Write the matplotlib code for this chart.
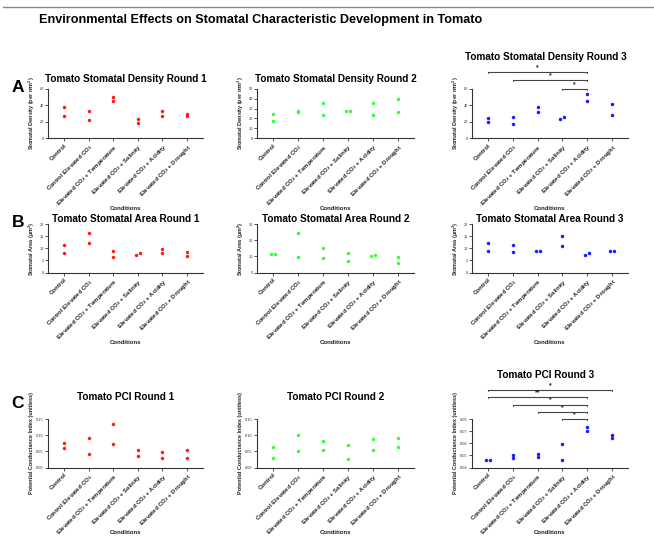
import matplotlib
matplotlib.use('Agg')
import matplotlib.pyplot as plt
import numpy as np

plt.rcParams['font.family'] = ['Liberation Sans', 'DejaVu Sans']
plt.rcParams['mathtext.default'] = 'regular'

# ---------------- data ----------------
conditions = ['Control', 'Control Elevated CO$_2$', 'Elevated CO$_2$ + Temperature',
              'Elevated CO$_2$ + Salinity', 'Elevated CO$_2$ + Acidity', 'Elevated CO$_2$ + Drought']

density_r1 = [[37.7, 27.3], [33.5, 21.5], [49.7, 45.5], [23.6, 17.8], [33.5, 27.3], [27.3, 29.8]]
density_r2 = [[24.1, 17.6], [28.0, 26.1], [35.9, 23.8], [27.6, 27.6], [35.9, 23.8], [39.7, 26.2]]
density_r3 = [[24.0, 19.9], [26.1, 17.4], [37.7, 31.9], [23.6, 25.4], [53.8, 45.5], [41.8, 27.7]]

area_r1 = [[11.3, 8.1], [16.3, 12.4], [8.8, 6.6], [7.4, 7.9], [9.9, 7.9], [8.4, 7.0]]
area_r2 = [[11.25, 11.25], [24.4, 9.6], [15.0, 9.2], [12.3, 6.9], [10.4, 10.8], [9.4, 6.0]]
area_r3 = [[12.4, 9.0], [11.4, 8.3], [8.8, 9.0], [15.0, 11.0], [7.4, 7.9], [8.8, 9.0]]

pci_r1 = [[0.0755, 0.060], [0.091, 0.042], [0.134, 0.073], [0.054, 0.036], [0.049, 0.030], [0.054, 0.030]]
pci_r2 = [[0.064, 0.029], [0.100, 0.051], [0.083, 0.056], [0.069, 0.025], [0.088, 0.055], [0.093, 0.064]]
pci_r3 = [[0.0464, 0.0464], [0.0505, 0.0482], [0.0515, 0.0490], [0.0594, 0.0464], [0.0736, 0.0700], [0.0672, 0.0642]]

# significance comparisons (group i, group j, label), lowest bar first
density_r3_sig = [(3, 4, '*'), (1, 4, '*'), (0, 4, '*')]
pci_r3_sig = [(3, 4, '*'), (2, 4, '*'), (1, 4, '*'), (0, 4, '**'), (0, 5, '*')]

titles = [['Tomato Stomatal Density Round 1', 'Tomato Stomatal Density Round 2', 'Tomato Stomatal Density Round 3'],
          ['Tomato Stomatal Area Round 1', 'Tomato Stomatal Area Round 2', 'Tomato Stomatal Area Round 3'],
          ['Tomato PCI Round 1', 'Tomato PCI Round 2', 'Tomato PCI Round 3']]
ylabels = ['Stomatal Density (per mm$^2$)', 'Stomatal Area (µm$^2$)', 'Potential Conductance Index (unitless)']
row_letters = ['A', 'B', 'C']
main_title = 'Environmental Effects on Stomatal Characteristic Development in Tomato'
xlabel = 'Conditions'

# ---------------- layout ----------------
W, H = 654, 539
fig = plt.figure(figsize=(W / 100, H / 100), dpi=100)

def fx(px):
    return px / W

def fy(py):
    return 1 - py / H

rows_tb = [(89, 138), (224.3, 272.5), (419.3, 467.5)]
cols_lr = [(48, 203), (257, 414), (472, 628)]
title_y = [[79, 79, 57], [219, 219, 219], [397, 397, 375]]
cond_y = [208, 342, 533]
letter_y = [87, 222, 404]

colors = ['#ff1a1a', '#33ff33', '#1a1aff']

panels = [
    [(density_r1, (0, 60), [0, 20, 40, 60], '%d', None),
     (density_r2, (0, 50), [0, 10, 20, 30, 40, 50], '%d', None),
     (density_r3, (0, 60), [0, 20, 40, 60], '%d', (density_r3_sig, 0.175))],
    [(area_r1, (0, 20), [0, 5, 10, 15, 20], '%d', None),
     (area_r2, (0, 30), [0, 10, 20, 30], '%d', None),
     (area_r3, (0, 20), [0, 5, 10, 15, 20], '%d', None)],
    [(pci_r1, (0, 0.15), [0, 0.05, 0.10, 0.15], '%.2f', None),
     (pci_r2, (0, 0.15), [0, 0.05, 0.10, 0.15], '%.2f', None),
     (pci_r3, (0.04, 0.08), [0.04, 0.05, 0.06, 0.07, 0.08], '%.2f', (pci_r3_sig, 0.152))],
]

axcol = '#333333'

for r in range(3):
    t, b = rows_tb[r]
    for c in range(3):
        l, rr = cols_lr[c]
        ax = fig.add_axes([fx(l), fy(b), fx(rr - l), (b - t) / H])
        data, ylim, yticks, fmt, sig = panels[r][c]
        rng = ylim[1] - ylim[0]
        for i, vals in enumerate(data):
            vs = sorted(vals)
            if len(vs) == 2 and (vs[1] - vs[0]) < 0.035 * rng:
                xs = [i - 0.08, i + 0.08]
            else:
                xs = [i] * len(vs)
            ax.plot(xs, vs, 'o', color=colors[c], ms=2.5, mew=0, clip_on=False, zorder=3)
        ax.set_xlim(-0.65, 5.65)
        ax.set_ylim(*ylim)
        ax.set_yticks(yticks)
        ax.set_yticklabels([fmt % v for v in yticks])
        ax.set_xticks(range(len(conditions)))
        ax.set_xticklabels(conditions, rotation=45, ha='right', rotation_mode='anchor',
                           fontsize=4.3, fontweight='bold', color='#222222')
        ax.tick_params(axis='y', labelsize=2.8, length=2, width=0.6, pad=1, colors=axcol)
        ax.tick_params(axis='x', length=2, width=0.6, pad=1.5, colors=axcol)
        for lab in ax.get_xticklabels():
            lab.set_color('#222222')
        for sp in ['top', 'right']:
            ax.spines[sp].set_visible(False)
        for sp in ['left', 'bottom']:
            ax.spines[sp].set_linewidth(0.8)
            ax.spines[sp].set_color(axcol)
        ax.set_ylabel(ylabels[r], fontsize=4.0, fontweight='bold', labelpad=1.5, color='#222222')
        ax.patch.set_alpha(0)

        if sig is not None:
            comps, step = sig
            cap = 0.02 * rng
            for k, (i, j, lab) in enumerate(comps):
                yv = ylim[1] + k * step * rng
                ax.plot([i, j], [yv, yv], color='#444444', lw=0.8, clip_on=False)
                ax.plot([i, i], [yv, yv - cap], color='#444444', lw=0.6, clip_on=False)
                ax.plot([j, j], [yv, yv - cap], color='#444444', lw=0.6, clip_on=False)
                ax.text((i + j) / 2, yv + 0.02 * rng, lab, ha='center', va='bottom',
                        fontsize=5.0, fontweight='bold', color='#222222', clip_on=False)

        fig.text(fx((l + rr) / 2 - (4 if (c == 2 and r != 1) else 0)), fy(title_y[r][c]),
                 titles[r][c], ha='center', va='center', fontsize=7.2, fontweight='bold')
        fig.text(fx((l + rr) / 2), fy(cond_y[r]), xlabel, ha='center', va='center',
                 fontsize=4.3, fontweight='bold', color='#222222')
    fig.text(fx(18), fy(letter_y[r]), row_letters[r], ha='center', va='center',
             fontsize=12.5, fontweight='bold')

fig.text(fx(261), fy(20.5), main_title, ha='center', va='center', fontsize=9.1,
         fontweight='bold')
fig.add_artist(plt.Line2D([fx(3), 1], [fy(7), fy(7)], color='#888888', lw=1.0))

fig.savefig('out.png', dpi=100)
